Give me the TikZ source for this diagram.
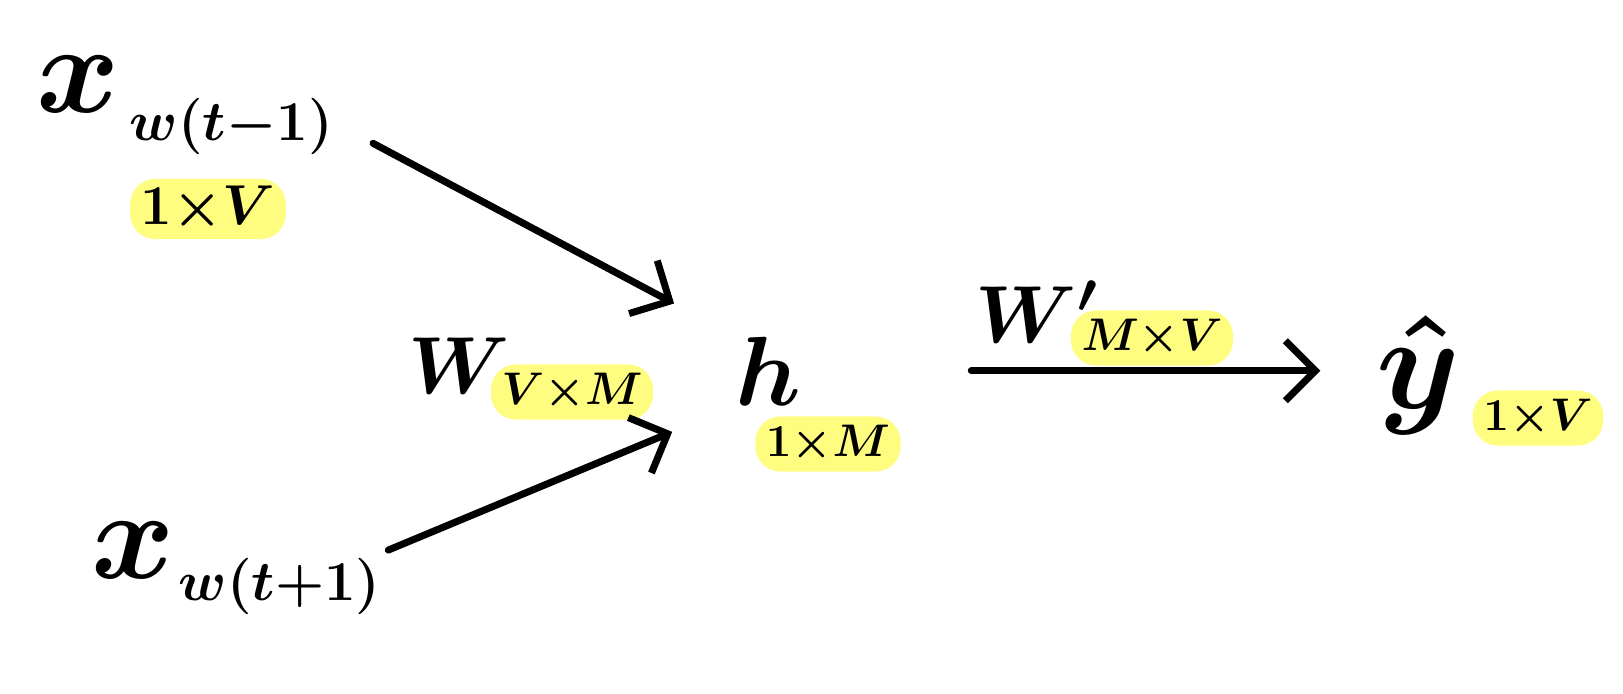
\documentclass[tikz,border=0pt]{standalone}
\usepackage{fix-cm}
\usepackage{amsmath}
\usetikzlibrary{arrows.meta, positioning, calc, backgrounds}
\definecolor{hlyellow}{RGB}{255,253,128}

\begin{document}
\begin{tikzpicture}[x=0.01cm, y=-0.01cm,
  sym/.style={inner sep=0pt, anchor=base west, font=\fontsize{#1}{#1}\selectfont\boldmath},
  sub/.style={inner sep=2pt, anchor=base west, font=\fontsize{16}{18}\selectfont\boldmath},
  hl/.style={fill=hlyellow, rounded corners=0.25cm, inner xsep=3pt, inner ysep=2pt, minimum height=0.55cm, font=\fontsize{13}{15}\selectfont\boldmath},
  arr/.style={-{Straight Barb[length=3mm, width=6mm]}, line width=2pt, line cap=round}
]
  \useasboundingbox (0,0) rectangle (1623,693);

  % context words
  \node[sym=36] (x1) at (36,112) {$x$};
  \node[sub] (x1sub) at (122,140) {$w(t{-}1)$};
  \node[sym=36] (x2) at (91,578) {$x$};
  \node[sub] (x2sub) at (171,600) {$w(t{+}1)$};

  % hidden layer and weights
  \node[sym=23] (W) at (408,393) {$W$};
  \node[sym=28] (h) at (735,405) {$h$};
  \node[sym=23] (Wp) at (975,342) {$W'$};

  % output
  \node[sym=38, anchor=base] (yhat) at (1418,408) {$\hat{y}$};

  % dimensions, highlighted
  \begin{scope}[on background layer]
    \node[hl, minimum width=1.53cm, font=\fontsize{16}{18}\selectfont\boldmath] (x1dim) at (208,209) {$1{\times}V$};
    \node[hl] (Wsub) at (572,392) {$V{\times}M$};
    \node[hl, minimum width=1.22cm] (hsub) at (828,444) {$1{\times}M$};
    \node[hl, minimum width=1.24cm] (yhatsub) at (1538,418) {$1{\times}V$};
    \node[hl, minimum width=1.29cm] (Wpsub) at (1152,338) {$M{\times}V$};
  \end{scope}

  \draw[arr, shorten <=0.37cm, shorten >=0.69cm] (x1sub.east) -- (h.north west);
  \draw[arr, shorten >=0.68cm] (x2sub.north east) -- (h.south west);
  \draw[arr, shorten <=0.7cm, shorten >=0.55cm] (h.east -| hsub.east) -- (h.east -| yhat.west);
\end{tikzpicture}
\end{document}
